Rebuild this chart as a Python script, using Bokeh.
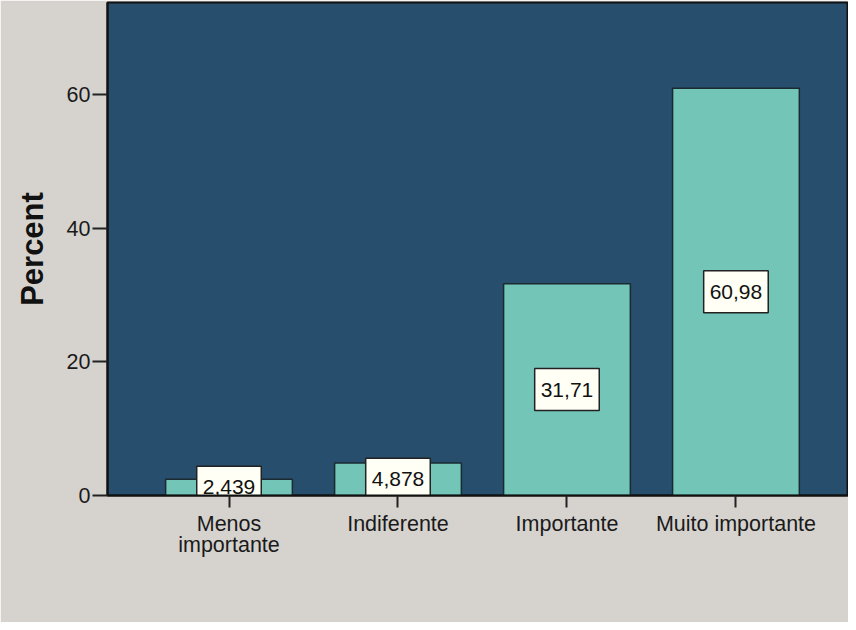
from bokeh.plotting import figure
from bokeh.models import ColumnDataSource, Range1d, FixedTicker
from bokeh.core.properties import value
from bokeh.embed import file_html
from bokeh.resources import INLINE

categories = ["Menos\nimportante", "Indiferente", "Importante", "Muito importante"]
positions = [1, 2, 3, 4]
percent = [2.439, 4.878, 31.71, 60.98]
y_ticks = [0, 20, 40, 60]

labels = [f"{v:g}".replace(".", ",") for v in percent]
source = ColumnDataSource(data=dict(
    x=positions, top=percent, mid=[v / 2 for v in percent], label=labels))

FONT = "Liberation Sans"
p = figure(width=848, height=622, output_backend="svg", toolbar_location=None,
           x_range=Range1d(0.281, 4.666), y_range=Range1d(0, 73.8),
           min_border_left=107, min_border_right=0, min_border_top=2,
           min_border_bottom=127)
p.background_fill_color = "#274e6c"
p.border_fill_color = "#d6d3ce"
p.outline_line_color = "#111111"
p.outline_line_width = 2
p.grid.visible = False

p.vbar(x="x", top="top", bottom=0, width=0.75, source=source,
       fill_color="#73c5b8", line_color="#1a2a30", line_width=1.5)

p.text(x="x", y="mid", text="label", source=source,
       text_align="center", text_baseline="middle",
       text_font=value(FONT), text_font_size="21px", text_color="#111111",
       background_fill_color="#fffff5", border_line_color="#222222",
       border_line_width=1.5,
       padding=dict(left=6, right=6, top=14, bottom=14))

p.xaxis.ticker = FixedTicker(ticks=positions)
p.xaxis.major_label_overrides = {pos: cat for pos, cat in zip(positions, categories)}
p.yaxis.ticker = FixedTicker(ticks=y_ticks)

for ax in (p.xaxis[0], p.yaxis[0]):
    ax.axis_line_color = "#111111"
    ax.axis_line_width = 2
    ax.major_tick_line_color = "#222222"
    ax.major_tick_line_width = 2
    ax.major_tick_in = 0
    ax.minor_tick_out = 0
    ax.minor_tick_in = 0
    ax.major_label_text_font = FONT
    ax.major_label_text_font_size = "21.5px"
    ax.major_label_text_color = "#1a1a1a"

p.xaxis.major_tick_out = 12
p.xaxis.major_label_standoff = 4
p.xaxis.major_label_text_line_height = 0.9
p.yaxis.major_tick_out = 15
p.yaxis.major_label_standoff = 2

p.yaxis.axis_label = "Percent"
p.yaxis.axis_label_text_font = FONT
p.yaxis.axis_label_text_font_size = "31px"
p.yaxis.axis_label_text_font_style = "bold"
p.yaxis.axis_label_text_color = "#111111"
p.yaxis.axis_label_standoff = 14

open("out.html", "w").write(file_html(p, INLINE))
